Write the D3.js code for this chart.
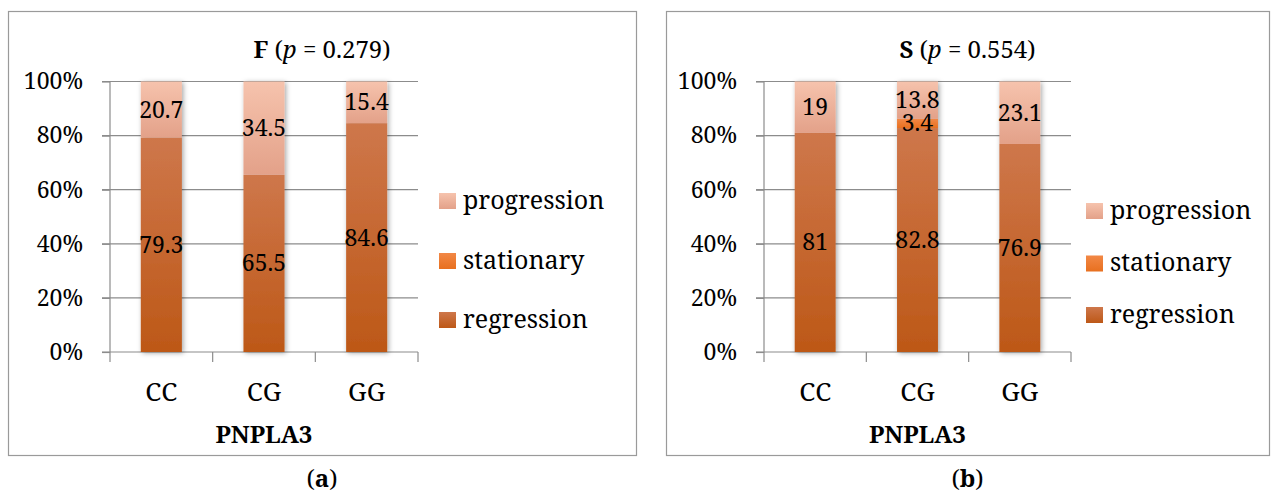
<!DOCTYPE html>
<html>
<head>
<meta charset="utf-8">
<script src="https://cdn.jsdelivr.net/npm/d3@7"></script>
<style>
  body { margin: 0; background: #fff; }
  svg { display: block; }
</style>
</head>
<body>
<svg id="chart" width="1271" height="496"></svg>
<script>
// PNPLA3 genotype vs. outcome, two panels (F and S)
const genotypes = ["CC", "CG", "GG"];
const seriesNames = ["regression", "stationary", "progression"];
const yTicks = [0, 20, 40, 60, 80, 100];

const fRegression  = [79.3, 65.5, 84.6];
const fStationary  = [0, 0, 0];
const fProgression = [20.7, 34.5, 15.4];

const sRegression  = [81, 82.8, 76.9];
const sStationary  = [0, 3.4, 0];
const sProgression = [19, 13.8, 23.1];

const panelLetters = ["F", "S"];
const panelPValues = ["0.279", "0.554"];
const panelTags = ["a", "b"];
const axisTitle = "PNPLA3";

const FONT = '"Noto Serif", "Liberation Serif", serif';

function rowsFor(reg, sta, pro) {
  return genotypes.map((g, i) => ({ genotype: g, regression: reg[i], stationary: sta[i], progression: pro[i] }));
}
const panelData = [
  rowsFor(fRegression, fStationary, fProgression),
  rowsFor(sRegression, sStationary, sProgression)
];

// frame geometry for each panel
const layout = [
  { box: [8, 11, 636, 455], x0: 110, x1: 418, yBottom: 352, yTop: 81.5, legendX: 439, legendY: [320, 261, 201] },
  { box: [666, 11, 1269, 455], x0: 764, x1: 1071, yBottom: 352, yTop: 81.5, legendX: 1086, legendY: [315, 263.5, 211] }
];

const svg = d3.select("#chart");
const defs = svg.append("defs");

// vertical gradient fills per series
const gradStops = {
  regression:  ["#ce774b", "#bd5817"],
  stationary:  ["#f28846", "#e8701f"],
  progression: ["#f6c3ad", "#e3a189"]
};
Object.entries(gradStops).forEach(([k, [c0, c1]]) => {
  const g = defs.append("linearGradient").attr("id", "grad-" + k)
    .attr("x1", 0).attr("y1", 0).attr("x2", 0).attr("y2", 1);
  g.append("stop").attr("offset", "0%").attr("stop-color", c0);
  g.append("stop").attr("offset", "100%").attr("stop-color", c1);
});

const shadow = defs.append("filter").attr("id", "barShadow")
  .attr("x", "-40%").attr("y", "-5%").attr("width", "180%").attr("height", "110%");
shadow.append("feDropShadow").attr("dx", 1.5).attr("dy", 1).attr("stdDeviation", 2.5)
  .attr("flood-color", "#000").attr("flood-opacity", 0.35);

const stack = d3.stack().keys(seriesNames);
const gridColor = "#8c8c8c";

layout.forEach((L, pi) => {
  const rows = panelData[pi];
  const g = svg.append("g");

  // panel frame
  g.append("rect")
    .attr("x", L.box[0] + 0.5).attr("y", L.box[1] + 0.5)
    .attr("width", L.box[2] - L.box[0]).attr("height", L.box[3] - L.box[1])
    .attr("fill", "none").attr("stroke", "#9a9a9a").attr("stroke-width", 1.2);

  const x = d3.scaleBand().domain(genotypes).range([L.x0, L.x1])
    .paddingInner(0.6).paddingOuter(0.3);
  const y = d3.scaleLinear().domain([0, 100]).range([L.yBottom, L.yTop]);

  // horizontal gridlines
  g.append("g").selectAll("line").data(yTicks).join("line")
    .attr("x1", L.x0 - 8).attr("x2", L.x1)
    .attr("y1", d => y(d)).attr("y2", d => y(d))
    .attr("stroke", gridColor).attr("stroke-width", 1.2);

  // y axis
  const yAxis = g.append("g").attr("transform", `translate(${L.x0},0)`)
    .call(d3.axisLeft(y).tickValues(yTicks).tickSize(8).tickPadding(19).tickFormat(d => d + "%"));
  yAxis.select(".domain").attr("stroke", gridColor).attr("stroke-width", 1.2).attr("d", `M0,${L.yBottom}V${L.yTop}`);
  yAxis.selectAll(".tick line").attr("stroke", gridColor).attr("stroke-width", 1.2);
  yAxis.selectAll(".tick text").attr("fill", "#000").style("font-size", "23px");

  // x axis category boundaries
  const bounds = d3.range(genotypes.length + 1).map(i => L.x0 + i * x.step());
  g.append("g").selectAll("line").data(bounds).join("line")
    .attr("x1", d => d).attr("x2", d => d)
    .attr("y1", L.yBottom).attr("y2", L.yBottom + 10)
    .attr("stroke", gridColor).attr("stroke-width", 1.2);

  g.append("g").selectAll("text").data(genotypes).join("text")
    .attr("x", d => x(d) + x.bandwidth() / 2).attr("y", 401)
    .attr("text-anchor", "middle").style("font-size", "26px").text(d => d);

  // stacked bars
  const stacked = stack(rows);
  const bars = g.append("g").selectAll("g.bar").data(rows).join("g")
    .attr("class", "bar").attr("filter", "url(#barShadow)");
  bars.each(function (row, ri) {
    const segs = stacked.map(s => ({ key: s.key, lo: s[ri][0], hi: s[ri][1] })).filter(s => s.hi > s.lo);
    d3.select(this).selectAll("rect").data(segs).join("rect")
      .attr("x", x(row.genotype)).attr("width", x.bandwidth())
      .attr("y", s => y(s.hi)).attr("height", s => y(s.lo) - y(s.hi))
      .attr("fill", s => `url(#grad-${s.key})`);
  });

  // value labels at segment centres
  const labels = [];
  stacked.forEach(s => s.forEach((seg, ri) => {
    const v = rows[ri][s.key];
    if (v > 0) labels.push({ genotype: rows[ri].genotype, mid: (seg[0] + seg[1]) / 2, v });
  }));
  g.append("g").selectAll("text").data(labels).join("text")
    .attr("x", d => x(d.genotype) + x.bandwidth() / 2)
    .attr("y", d => y(d.mid)).attr("dy", "0.35em")
    .attr("text-anchor", "middle").style("font-size", "23px").text(d => String(d.v));

  // legend
  const legendOrder = ["progression", "stationary", "regression"];
  const lg = g.append("g").selectAll("g").data(legendOrder).join("g")
    .attr("transform", (d, i) => `translate(${L.legendX},${L.legendY[2 - i]})`);
  lg.append("rect").attr("x", 0).attr("y", -8).attr("width", 17).attr("height", 16)
    .attr("fill", d => `url(#grad-${d})`);
  lg.append("text").attr("x", 24).attr("dy", "0.3em").style("font-size", "25px").text(d => d);

  // title
  const cx = (L.box[0] + L.box[2]) / 2;
  const t = g.append("text").attr("x", cx).attr("y", 58).attr("text-anchor", "middle").style("font-size", "24px");
  t.append("tspan").attr("font-weight", "bold").text(panelLetters[pi]);
  t.append("tspan").text(" (");
  t.append("tspan").attr("font-style", "italic").text("p");
  t.append("tspan").text(" = " + panelPValues[pi] + ")");

  // axis title
  g.append("text").attr("x", (L.x0 + L.x1) / 2).attr("y", 443)
    .attr("text-anchor", "middle").style("font-size", "24px").attr("font-weight", "bold").text(axisTitle);

  // panel tag
  const tag = svg.append("text").attr("x", cx).attr("y", 487).attr("text-anchor", "middle").style("font-size", "24px");
  tag.append("tspan").text("(");
  tag.append("tspan").attr("font-weight", "bold").text(panelTags[pi]);
  tag.append("tspan").text(")");
});

// one serif face for every label
svg.selectAll("text").style("font-family", FONT).attr("fill", "#000");
</script>
</body>
</html>
